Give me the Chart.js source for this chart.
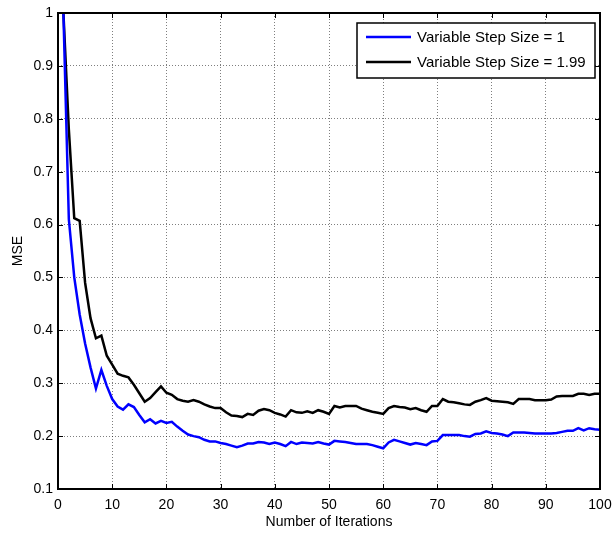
<!DOCTYPE html>
<html>
<head>
<meta charset="utf-8">
<script src="https://cdn.jsdelivr.net/npm/chart.js@4"></script>
<style>
  html, body { margin: 0; padding: 0; background: #fff; }
  canvas { display: block; }
</style>
</head>
<body>
<canvas id="mseChart" width="614" height="535"></canvas>
<script>
// iteration index 1..100
const iterations = Array.from({ length: 100 }, (_, i) => i + 1);

const mseStep1 = [
  1.0, 0.61, 0.50, 0.43, 0.375, 0.33, 0.29, 0.325, 0.295, 0.27,
  0.256, 0.25, 0.26, 0.255, 0.24, 0.226, 0.232, 0.224, 0.229, 0.225,
  0.227, 0.218, 0.21, 0.203, 0.2, 0.198, 0.193, 0.19, 0.19, 0.187,
  0.185, 0.182, 0.179, 0.182, 0.186, 0.186, 0.189, 0.188, 0.185, 0.188,
  0.185, 0.181, 0.189, 0.185, 0.188, 0.187, 0.186, 0.189, 0.186, 0.184,
  0.191, 0.19, 0.189, 0.187, 0.185, 0.185, 0.185, 0.183, 0.18, 0.177,
  0.188, 0.193, 0.19, 0.187, 0.184, 0.187, 0.185, 0.183, 0.19, 0.191,
  0.202, 0.202, 0.202, 0.202, 0.2, 0.199, 0.204, 0.205, 0.209, 0.206,
  0.205, 0.203, 0.2, 0.207, 0.207, 0.207, 0.206, 0.205, 0.205, 0.205,
  0.205, 0.206, 0.208, 0.21, 0.21, 0.215, 0.211, 0.215, 0.213, 0.212
];

const mseStep199 = [
  1.0, 0.78, 0.612, 0.607, 0.49, 0.423, 0.385, 0.39, 0.352, 0.335,
  0.318, 0.314, 0.311, 0.297, 0.281, 0.265, 0.272, 0.283, 0.294, 0.282,
  0.278, 0.27, 0.267, 0.265, 0.268, 0.265, 0.26, 0.256, 0.253, 0.253,
  0.245, 0.239, 0.238, 0.236, 0.242, 0.24, 0.248, 0.251, 0.249, 0.244,
  0.241, 0.237, 0.249, 0.245, 0.244, 0.247, 0.244, 0.249, 0.246, 0.242,
  0.257, 0.254, 0.257, 0.257, 0.257, 0.252, 0.249, 0.246, 0.244, 0.242,
  0.253, 0.257, 0.255, 0.254, 0.251, 0.253, 0.249, 0.246, 0.257, 0.257,
  0.27, 0.265, 0.264, 0.262, 0.26, 0.259, 0.265, 0.268, 0.272, 0.267,
  0.266, 0.265, 0.264, 0.261, 0.27, 0.27, 0.27, 0.268, 0.268, 0.268,
  0.269, 0.275, 0.276, 0.276, 0.276, 0.28, 0.28, 0.278, 0.28, 0.28
];

const xTicks = [0, 10, 20, 30, 40, 50, 60, 70, 80, 90, 100];
const yTicks = [0.1, 0.2, 0.3, 0.4, 0.5, 0.6, 0.7, 0.8, 0.9, 1];

const toPoints = (vals) => vals.map((v, i) => ({ x: iterations[i], y: v }));

const FONT = 'Liberation Sans, Arial, sans-serif';

// box around the axes + inward ticks (matlab look)
const axesBox = {
  id: 'axesBox',
  afterDraw(chart) {
    const { ctx, chartArea: a, scales } = chart;
    ctx.save();
    ctx.strokeStyle = '#000';
    ctx.lineWidth = 1;
    const tl = 5;
    ctx.beginPath();
    xTicks.forEach(t => {
      const px = Math.round(scales.x.getPixelForValue(t)) + 0.5;
      ctx.moveTo(px, a.bottom); ctx.lineTo(px, a.bottom - tl);
      ctx.moveTo(px, a.top); ctx.lineTo(px, a.top + tl);
    });
    yTicks.forEach(t => {
      const py = Math.round(scales.y.getPixelForValue(t)) + 0.5;
      ctx.moveTo(a.left, py); ctx.lineTo(a.left + tl, py);
      ctx.moveTo(a.right, py); ctx.lineTo(a.right - tl, py);
    });
    ctx.stroke();
    ctx.lineWidth = 2;
    ctx.strokeRect(a.left, a.top, a.right - a.left, a.bottom - a.top);

    // legend box
    const lx = 357, ly = 23, lw = 238, lh = 55;
    ctx.fillStyle = '#fff';
    ctx.fillRect(lx, ly, lw, lh);
    ctx.lineWidth = 1.5;
    ctx.strokeRect(lx, ly, lw, lh);
    ctx.font = '15px ' + FONT;
    ctx.textBaseline = 'middle';
    chart.data.datasets.forEach((ds, i) => {
      const y = ly + 14 + i * 25;
      ctx.strokeStyle = ds.borderColor;
      ctx.lineWidth = 2.5;
      ctx.beginPath();
      ctx.moveTo(366, y); ctx.lineTo(411, y);
      ctx.stroke();
      ctx.fillStyle = '#000';
      ctx.fillText(ds.label, 417, y + 1);
    });
    ctx.restore();
  }
};

const config = {
  type: 'line',
  data: {
    datasets: [
      {
        label: 'Variable Step Size = 1',
        data: toPoints(mseStep1),
        borderColor: '#0000ff',
        borderWidth: 2.5,
        pointRadius: 0,
        tension: 0,
      },
      {
        label: 'Variable Step Size = 1.99',
        data: toPoints(mseStep199),
        borderColor: '#000000',
        borderWidth: 2.5,
        pointRadius: 0,
        tension: 0,
      }
    ]
  },
  options: {
    responsive: false,
    animation: false,
    layout: { padding: { top: 13, right: 14, left: 0, bottom: 0 } },
    scales: {
      x: {
        type: 'linear',
        min: 0,
        max: 100,
        afterFit(s) { s.height = 46; s.paddingRight = 0; s.paddingLeft = 0; },
        afterBuildTicks(s) { s.ticks = xTicks.map(v => ({ value: v })); },
        grid: { color: 'rgba(0,0,0,0.5)', drawTicks: false },
        border: { display: false, dash: [1, 2] },
        ticks: { color: '#000', padding: 8, maxRotation: 0, font: { family: FONT, size: 14 } },
        title: { display: true, text: 'Number of Iterations', color: '#000', padding: { top: 2 }, font: { family: FONT, size: 14 } }
      },
      y: {
        min: 0.1,
        max: 1,
        afterFit(s) { s.width = 58; s.paddingTop = 0; s.paddingBottom = 0; },
        afterBuildTicks(s) { s.ticks = yTicks.map(v => ({ value: v })); },
        grid: { color: 'rgba(0,0,0,0.5)', drawTicks: false },
        border: { display: false, dash: [1, 2] },
        ticks: {
          color: '#000',
          padding: 5,
          font: { family: FONT, size: 14 },
          callback: v => String(Math.round(v * 10) / 10)
        },
        title: { display: true, text: 'MSE', color: '#000', padding: { top: 10, bottom: 0 }, font: { family: FONT, size: 14 } }
      }
    },
    plugins: {
      legend: { display: false },
      tooltip: { enabled: false }
    }
  },
  plugins: [axesBox]
};

const mseChart = new Chart(document.getElementById('mseChart'), config);
</script>
</body>
</html>
